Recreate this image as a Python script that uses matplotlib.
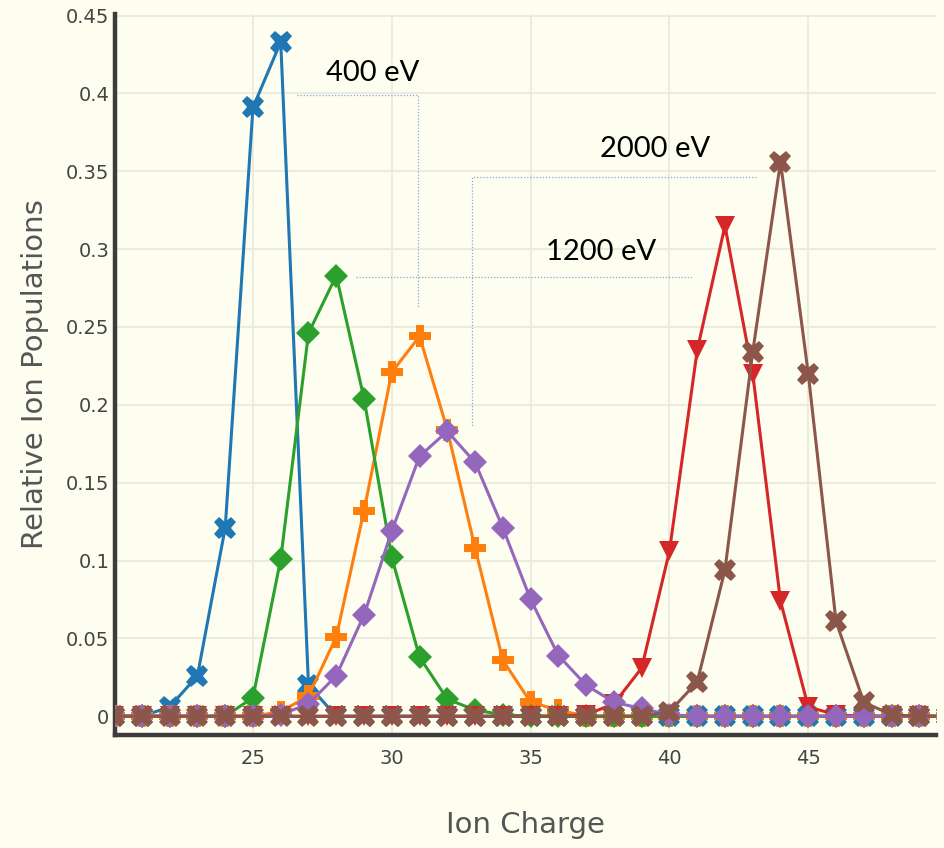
import numpy as np
import matplotlib.pyplot as plt

plt.rcParams['font.family'] = ['DejaVu Sans']

# ion charge states (x axis)
charge = np.arange(20, 51)

# relative populations, charge 20..50
pop_blue = [0, 0, 0.006, 0.026, 0.121, 0.391, 0.433, 0.020, 0, 0,
            0, 0, 0, 0, 0, 0, 0, 0, 0, 0,
            0, 0, 0, 0, 0, 0, 0, 0, 0, 0, 0]
pop_orange = [0, 0, 0, 0, 0, 0, 0.003, 0.013, 0.051, 0.132,
              0.221, 0.244, 0.184, 0.108, 0.036, 0.009, 0.004, 0, 0, 0,
              0, 0, 0, 0, 0, 0, 0, 0, 0, 0, 0]
pop_green = [0, 0, 0, 0, 0, 0.012, 0.101, 0.246, 0.283, 0.204,
             0.102, 0.038, 0.011, 0.004, 0.001, 0, 0, 0, 0, 0,
             0, 0, 0, 0, 0, 0, 0, 0, 0, 0, 0]
pop_red = [0, 0, 0, 0, 0, 0, 0, 0, 0, 0,
           0, 0, 0, 0, 0, 0, 0, 0.001, 0.008, 0.031,
           0.106, 0.235, 0.315, 0.220, 0.074, 0.006, 0.001, 0, 0, 0, 0]
pop_purple = [0, 0, 0, 0, 0, 0, 0.001, 0.008, 0.026, 0.065,
              0.119, 0.167, 0.183, 0.163, 0.121, 0.075, 0.039, 0.020, 0.009, 0.005,
              0.001, 0, 0, 0, 0, 0, 0, 0, 0, 0, 0]
pop_brown = [0, 0, 0, 0, 0, 0, 0, 0, 0, 0,
             0, 0, 0, 0, 0, 0, 0, 0, 0, 0,
             0.003, 0.022, 0.094, 0.234, 0.356, 0.220, 0.061, 0.009, 0.001, 0, 0]

y_ticks = [0, 0.05, 0.1, 0.15, 0.2, 0.25, 0.3, 0.35, 0.4, 0.45]
y_tick_labels = ['0', '0.05', '0.1', '0.15', '0.2', '0.25', '0.3', '0.35', '0.4', '0.45']
x_ticks = [25, 30, 35, 40, 45]

# energy labels: text, text position, bracket path (x list, y list)
energy_labels = ['400 eV', '1200 eV', '2000 eV']
label_pos = [(29.3, 0.413), (37.55, 0.298), (39.5, 0.364)]
bracket_x = [[26.6, 30.95, 30.95], [28.7, 40.85], [43.1, 32.9, 32.9]]
bracket_y = [[0.399, 0.399, 0.263], [0.282, 0.282], [0.346, 0.346, 0.186]]

bg = '#fdfdf0'
fig = plt.figure(figsize=(9.44, 8.48), dpi=100, facecolor=bg)
ax = fig.add_axes([0.1218, 0.1333, 0.8697, 0.8502], facecolor=bg)

series = [
    (pop_blue, '#1f77b4', 'X', 16),
    (pop_orange, '#ff7f0e', 'P', 16),
    (pop_green, '#2ca02c', 'D', 12.5),
    (pop_red, '#d62728', 'v', 15),
    (pop_purple, '#9467bd', 'D', 12.5),
    (pop_brown, '#8c564b', 'X', 16),
]
for vals, col, mk, ms in series:
    ax.plot(charge, vals, color=col, lw=2.2, marker=mk, markersize=ms,
            markeredgewidth=0, zorder=3)

for (tx, ty), lab, bx, by in zip(label_pos, energy_labels, bracket_x, bracket_y):
    ax.plot(bx, by, color='#86a9d8', lw=0.9, ls=(0, (1, 1.5)), zorder=2)
    ax.text(tx, ty, lab, ha='center', va='center', fontsize=21,
            family='Lato', color='black', zorder=4)

ax.set_xlim(20.03, 49.6)
ax.set_ylim(-0.012, 0.451)
ax.set_yticks(y_ticks)
ax.set_yticklabels(y_tick_labels)
ax.set_xticks(x_ticks)
ax.grid(True, color='#ebebdc', lw=1.3, zorder=0)
ax.set_axisbelow(True)

for s in ['top', 'right']:
    ax.spines[s].set_visible(False)
for s in ['left', 'bottom']:
    ax.spines[s].set_color('#3c3c3c')
    ax.spines[s].set_linewidth(3.2)

ax.tick_params(axis='both', length=0, labelsize=14, labelcolor='#444444')
ax.tick_params(axis='y', pad=4)
ax.tick_params(axis='x', pad=10)

ax.set_xlabel('Ion Charge', fontsize=21, color='#555555', labelpad=31)
ax.set_ylabel('Relative Ion Populations', fontsize=21, color='#555555', labelpad=12)

fig.savefig('out.png', dpi=100, facecolor=bg)
